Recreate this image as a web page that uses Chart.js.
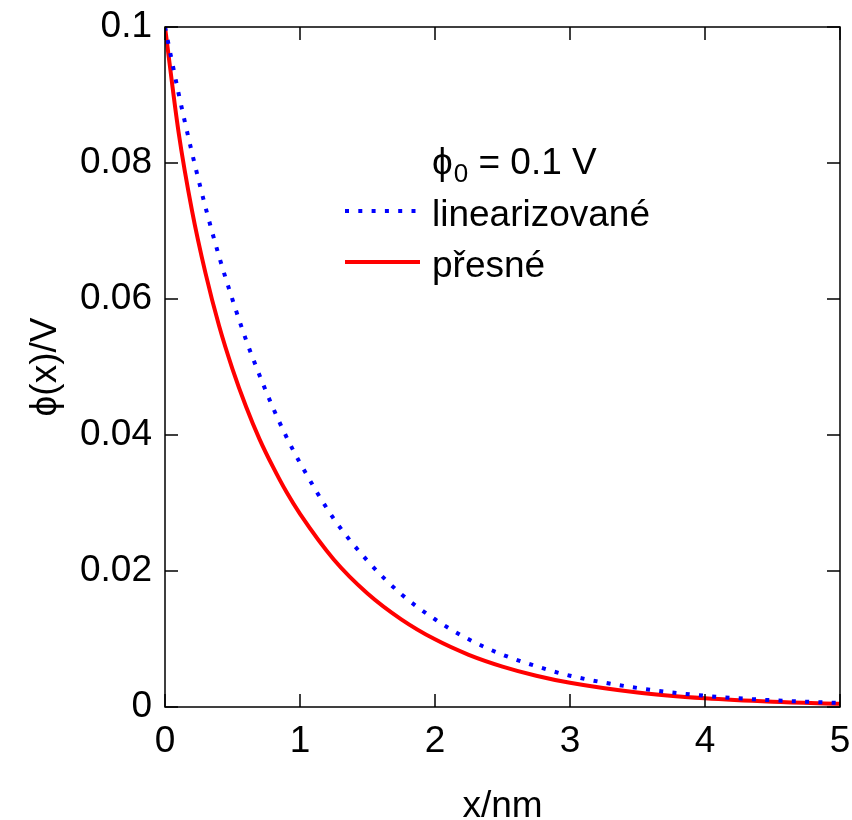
<!DOCTYPE html>
<html>
<head>
<meta charset="utf-8">
<script src="https://cdn.jsdelivr.net/npm/chart.js@4"></script>
<style>
  html, body { margin: 0; padding: 0; background: #fff; }
  #wrap { width: 852px; height: 820px; }
</style>
</head>
<body>
<div id="wrap"><canvas id="phiChart" width="852" height="820"></canvas></div>
<script>
// x in nm
const xValues = [0, 0.1, 0.2, 0.3, 0.4, 0.5, 0.6, 0.7, 0.8, 0.9, 1.0, 1.25, 1.5, 1.75, 2.0, 2.25, 2.5, 2.75, 3.0, 3.5, 4.0, 4.5, 5.0];
const linearized = [0.1, 0.0903, 0.0815, 0.0735, 0.0663, 0.0599, 0.054, 0.0488, 0.044, 0.0397, 0.0359, 0.0277, 0.0215, 0.0166, 0.0129, 0.00995, 0.0077, 0.006, 0.0046, 0.0028, 0.00165, 0.00099, 0.00059];
const exact = [0.1, 0.0846, 0.073, 0.0638, 0.0561, 0.0497, 0.0442, 0.0394, 0.0353, 0.0316, 0.0284, 0.0217, 0.0167, 0.0129, 0.00995, 0.00768, 0.00595, 0.0046, 0.00356, 0.00213, 0.00127, 0.00076, 0.00046];

const seriesLabels = ["linearizované", "přesné"];
const legendTitle = ["ϕ", "0", " = 0.1 V"];
const xTickValues = [0, 1, 2, 3, 4, 5];
const yTickValues = [0, 0.02, 0.04, 0.06, 0.08, 0.1];
const yTickLabels = ["0", "0.02", "0.04", "0.06", "0.08", "0.1"];
const xTitle = "x/nm";
const yTitle = "ϕ(x)/V";

const FONT = "'Liberation Sans', Arial, Helvetica, sans-serif";

// frame + inward ticks on all four sides, like gnuplot
const framePlugin = {
  id: "frame",
  afterDatasetsDraw(chart) {
    const { ctx, chartArea: a, scales } = chart;
    const len = 13;
    ctx.save();
    ctx.strokeStyle = "#000";
    ctx.lineWidth = 1.5;
    ctx.beginPath();
    scales.x.ticks.forEach((t) => {
      const px = scales.x.getPixelForValue(t.value);
      ctx.moveTo(px, a.bottom);
      ctx.lineTo(px, a.bottom - len);
      ctx.moveTo(px, a.top);
      ctx.lineTo(px, a.top + len);
    });
    scales.y.ticks.forEach((t) => {
      const py = scales.y.getPixelForValue(t.value);
      ctx.moveTo(a.left, py);
      ctx.lineTo(a.left + len, py);
      ctx.moveTo(a.right, py);
      ctx.lineTo(a.right - len, py);
    });
    ctx.stroke();
    ctx.strokeRect(a.left, a.top, a.right - a.left, a.bottom - a.top);
    ctx.restore();
  },
};

// legend inside the plot
const keyPlugin = {
  id: "key",
  afterDraw(chart) {
    const { ctx } = chart;
    const x0 = 345, x1 = 420, tx = 432;
    const rows = [226, 277];
    ctx.save();
    ctx.fillStyle = "#000";
    ctx.textBaseline = "alphabetic";
    ctx.textAlign = "left";

    // title with subscript
    ctx.font = "37px " + FONT;
    let x = tx;
    ctx.fillText(legendTitle[0], x, 174);
    x += ctx.measureText(legendTitle[0]).width + 1;
    ctx.font = "26px " + FONT;
    ctx.fillText(legendTitle[1], x, 182);
    x += ctx.measureText(legendTitle[1]).width;
    ctx.font = "37px " + FONT;
    ctx.fillText(legendTitle[2], x, 174);

    chart.data.datasets.forEach((ds, i) => {
      const y = rows[i];
      ctx.beginPath();
      ctx.strokeStyle = ds.borderColor;
      ctx.lineWidth = ds.borderWidth;
      ctx.setLineDash(ds.borderDash || []);
      ctx.moveTo(x0, y - 15);
      ctx.lineTo(x1, y - 15);
      ctx.stroke();
      ctx.setLineDash([]);
      ctx.font = "37px " + FONT;
      ctx.fillText(ds.label, tx, y);
    });
    ctx.restore();
  },
};

new Chart(document.getElementById("phiChart"), {
  type: "line",
  data: {
    datasets: [
      {
        label: seriesLabels[0],
        data: xValues.map((x, i) => ({ x, y: linearized[i] })),
        borderColor: "#0000ff",
        borderWidth: 4,
        borderDash: [4, 9.3],
        pointRadius: 0,
        cubicInterpolationMode: "monotone",
      },
      {
        label: seriesLabels[1],
        data: xValues.map((x, i) => ({ x, y: exact[i] })),
        borderColor: "#ff0000",
        borderWidth: 4,
        pointRadius: 0,
        cubicInterpolationMode: "monotone",
      },
    ],
  },
  options: {
    responsive: false,
    animation: false,
    layout: { padding: { top: 27, right: 12, left: 0, bottom: 0 } },
    plugins: {
      legend: { display: false },
      tooltip: { enabled: false },
    },
    scales: {
      x: {
        type: "linear",
        min: 0,
        max: 5,
        grid: { display: false, drawTicks: false },
        border: { display: false },
        afterBuildTicks(scale) {
          scale.ticks = xTickValues.map((v) => ({ value: v }));
        },
        afterFit(scale) {
          scale.height = 113;
          scale.paddingLeft = 0;
          scale.paddingRight = 0;
        },
        ticks: {
          padding: 13,
          color: "#000",
          font: { family: FONT, size: 37 },
          maxRotation: 0,
          callback: (v) => String(v),
        },
        title: {
          display: true,
          text: xTitle,
          color: "#000",
          font: { family: FONT, size: 37, lineHeight: 0.8 },
          padding: { top: 0, bottom: -2 },
        },
      },
      y: {
        type: "linear",
        min: 0,
        max: 0.1,
        grid: { display: false, drawTicks: false },
        border: { display: false },
        afterBuildTicks(scale) {
          scale.ticks = yTickValues.map((v) => ({ value: v }));
        },
        afterFit(scale) {
          scale.width = 165;
          scale.paddingTop = 0;
          scale.paddingBottom = 0;
        },
        ticks: {
          padding: 13,
          color: "#000",
          font: { family: FONT, size: 37 },
          callback: (v, i) => yTickLabels[i],
        },
        title: {
          display: true,
          text: yTitle,
          color: "#000",
          font: { family: FONT, size: 37, lineHeight: 0.8 },
          padding: { top: 31, bottom: 0 },
        },
      },
    },
  },
  plugins: [framePlugin, keyPlugin],
});
</script>
</body>
</html>
